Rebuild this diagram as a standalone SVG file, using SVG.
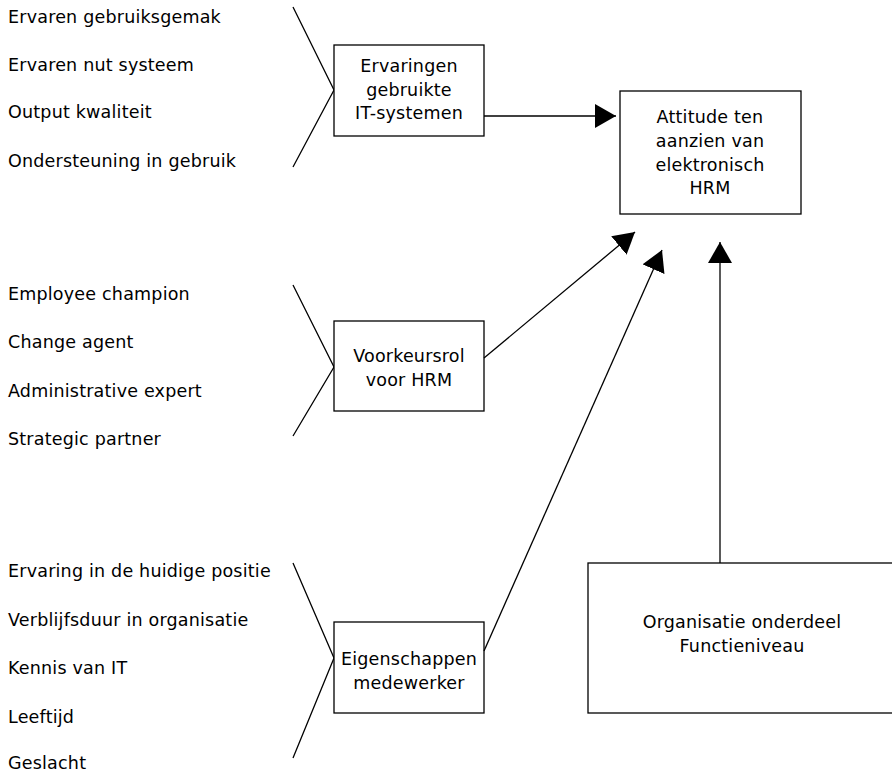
<svg xmlns="http://www.w3.org/2000/svg" width="892" height="774" viewBox="0 0 892 774">
<defs>
<style>
text{font-family:"DejaVu Sans","Open Sans",sans-serif;font-size:17.5px;letter-spacing:0.2px;fill:#000}
.c{text-anchor:middle}
.box{fill:#fff;stroke:#000;stroke-width:1.3}
.ln{fill:none;stroke:#000;stroke-width:1.3}
</style>
<marker id="ah" markerWidth="21" markerHeight="24" refX="21" refY="12" orient="auto" markerUnits="userSpaceOnUse">
<path d="M0,0 L21,12 L0,24 Z" fill="#000"/>
</marker>
</defs>
<rect width="892" height="774" fill="#fff"/>
<g id="list1">
<text x="8" y="23">Ervaren gebruiksgemak</text>
<text x="8" y="71">Ervaren nut systeem</text>
<text x="8" y="118">Output kwaliteit</text>
<text x="8" y="167">Ondersteuning in gebruik</text>
<polyline class="ln" points="293,7 334,90 293,167"/>
</g>
<g id="list2">
<text x="8" y="300">Employee champion</text>
<text x="8" y="348">Change agent</text>
<text x="8" y="397">Administrative expert</text>
<text x="8" y="445">Strategic partner</text>
<polyline class="ln" points="293,285 334,367 293,436"/>
</g>
<g id="list3">
<text x="8" y="577">Ervaring in de huidige positie</text>
<text x="8" y="626">Verblijfsduur in organisatie</text>
<text x="8" y="674">Kennis van IT</text>
<text x="8" y="723">Leeftijd</text>
<text x="8" y="769">Geslacht</text>
<polyline class="ln" points="293,563 334,658 293,758"/>
</g>
<g id="ervaringen">
<rect class="box" x="334" y="45" width="150" height="91"/>
<text class="c" x="409" y="72">Ervaringen</text>
<text class="c" x="409" y="95.5">gebruikte</text>
<text class="c" x="409" y="119">IT-systemen</text>
</g>
<g id="attitude">
<rect class="box" x="620" y="91" width="181" height="123"/>
<text class="c" x="710" y="123">Attitude ten</text>
<text class="c" x="710" y="146.5">aanzien van</text>
<text class="c" x="710" y="170.5">elektronisch</text>
<text class="c" x="710" y="194">HRM</text>
</g>
<g id="voorkeursrol">
<rect class="box" x="334" y="321" width="150" height="90"/>
<text class="c" x="409" y="362">Voorkeursrol</text>
<text class="c" x="409" y="386">voor HRM</text>
</g>
<g id="eigenschappen">
<rect class="box" x="334" y="622" width="150" height="91"/>
<text class="c" x="409" y="665">Eigenschappen</text>
<text class="c" x="409" y="689">medewerker</text>
</g>
<g id="organisatie">
<rect class="box" x="588" y="563" width="310" height="150"/>
<text class="c" x="742" y="628">Organisatie onderdeel</text>
<text class="c" x="742" y="652">Functieniveau</text>
</g>
<g id="connectors">
<line class="ln" x1="484" y1="116" x2="616" y2="116" marker-end="url(#ah)"/>
<line class="ln" x1="484" y1="358" x2="635" y2="232" marker-end="url(#ah)"/>
<line class="ln" x1="484" y1="651" x2="662" y2="250" marker-end="url(#ah)"/>
<line class="ln" x1="720" y1="563" x2="720" y2="242" marker-end="url(#ah)"/>
</g>
</svg>
